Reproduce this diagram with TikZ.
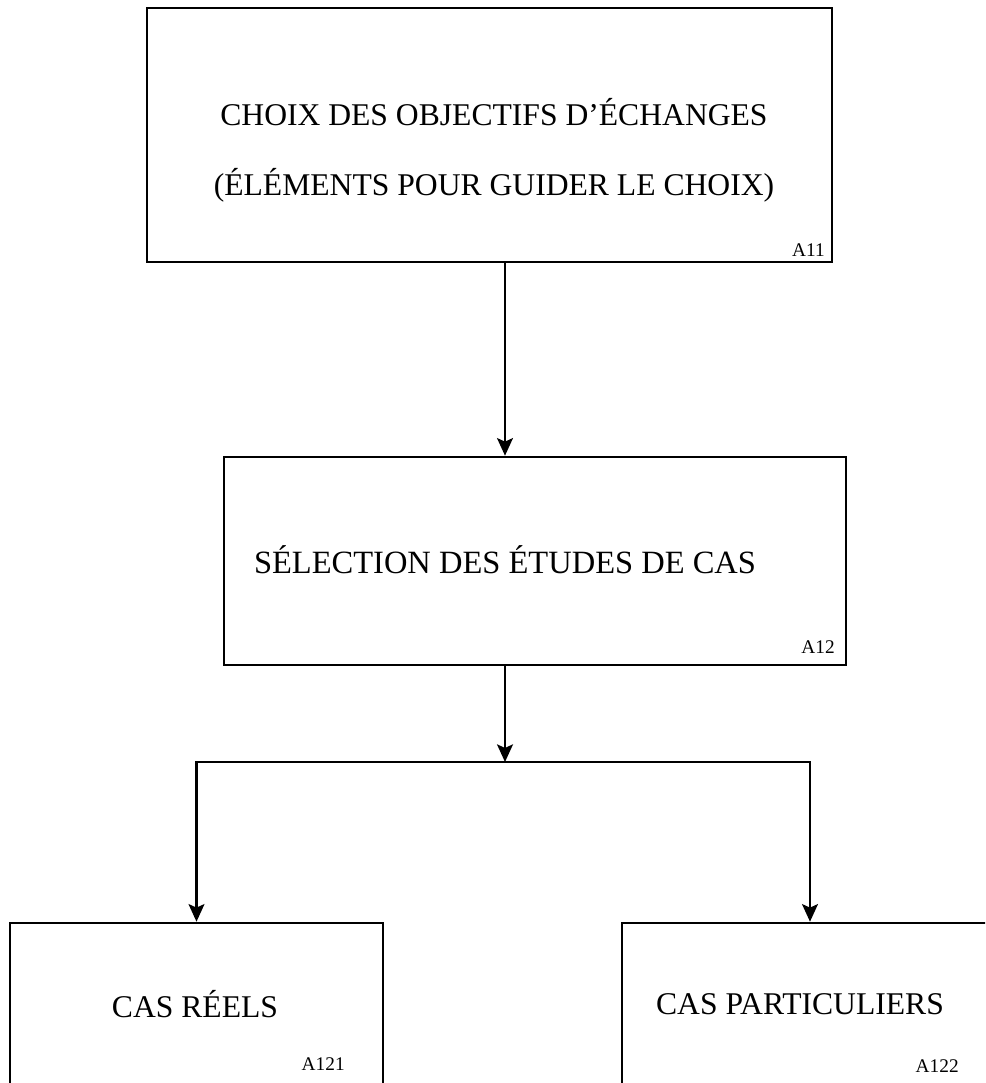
\documentclass[tikz,border=0pt]{standalone}
\usepackage{fontspec}
\setmainfont{Liberation Serif}
\usetikzlibrary{arrows.meta}
\tikzset{
  every picture/.style={font={\fontsize{18}{22}\selectfont}, >={Stealth[length=10pt,width=9pt,inset=2pt]}}}

\begin{document}
\begin{tikzpicture}[x=0.02cm, y=-0.02cm, line width=1.5pt,
    cadre/.style={draw, rectangle, inner sep=0pt},
    titre/.style={align=center, inner sep=0pt},
    code/.style={font=\fontsize{11}{13}\selectfont, anchor=base east, inner sep=0pt}]

  \useasboundingbox (0,0) rectangle (985,1083);
  \clip (0,0) rectangle (985,1083);

  % A11
  \node[cadre, minimum width=13.7cm, minimum height=5.08cm] (choix) at (489.5,135) {};
  \node[titre] (choixT) at (494,150)
    {CHOIX DES OBJECTIFS D'ÉCHANGES\\[18pt](ÉLÉMENTS POUR GUIDER LE CHOIX)};
  \node[code] (choixC) at (826,256) {A11};

  % A12
  \node[cadre, minimum width=12.44cm, minimum height=4.16cm] (selection) at (535,561) {};
  \node[titre] (selectionT) at (505,560) {\fontsize{18.5}{22}\selectfont SÉLECTION DES ÉTUDES DE CAS};
  \node[code] (selectionC) at (836,653) {A12};

  % A121, A122
  \node[cadre, minimum width=7.46cm, minimum height=4.16cm] (reels) at (196.5,1027) {};
  \node[titre] (reelsT) at (195,1004) {CAS RÉELS};
  \node[code] (reelsC) at (346,1070) {A121};

  \node[cadre, minimum width=7.52cm, minimum height=4.16cm] (particuliers) at (810,1027) {};
  \node[titre] (particuliersT) at (800,1004) {CAS PARTICULIERS};
  \node[code] (particuliersC) at (960,1072) {A122};

  % liaisons
  \coordinate (branche) at (505,762);
  \draw[->] (choix.south -| branche) -- (selection.north -| branche);
  \draw[->] (selection.south -| branche) -- (branche);
  \draw[->] (branche) -| (reels.north);
  \draw[->] (branche) -| (particuliers.north);
\end{tikzpicture}
\end{document}
